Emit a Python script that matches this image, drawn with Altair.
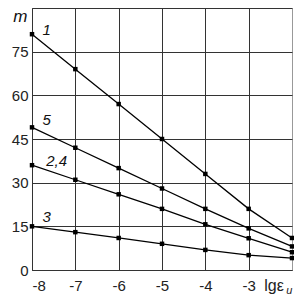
import altair as alt
import pandas as pd

x_vals = [-8, -7, -6, -5, -4, -3, -2]
s1 = [81, 69, 57, 45, 33, 21, 11]
s5 = [49, 42, 35, 28, 21, 14.3, 8.1]
s24 = [36, 31, 26, 21, 15.7, 10.9, 6.1]
s3 = [15, 13, 11, 9, 6.9, 5.1, 4.1]
series_names = ["1", "5", "2,4", "3"]

lab_x = [-7.66, -7.66, -7.43, -7.66]
lab_y = [82.5, 51.5, 37.6, 18.3]

rows = []
for name, vals in zip(series_names, [s1, s5, s24, s3]):
    for xv, yv in zip(x_vals, vals):
        rows.append({"x": xv, "y": yv, "s": name})
df = pd.DataFrame(rows)
labels = pd.DataFrame({"x": lab_x, "y": lab_y, "t": series_names})

FONT = "Liberation Sans"

xs = alt.Scale(domain=[-8, -2], nice=False)
ys = alt.Scale(domain=[0, 90], nice=False)

xaxis = alt.Axis(values=[-8, -7, -6, -5, -4, -3], title=None, grid=True,
                 gridColor="#333", gridWidth=1, ticks=False, domainColor="#333",
                 labelFont=FONT, labelFontSize=15, labelColor="#222", labelPadding=8,
                 labelExpr="'' + datum.value")
yaxis = alt.Axis(values=[0, 15, 30, 45, 60, 75, 90], title=None, grid=True,
                 gridColor="#333", gridWidth=1, ticks=False, domainColor="#333",
                 labelFont=FONT, labelFontSize=15, labelColor="#222", labelPadding=4,
                 labelExpr="datum.value == 90 ? '' : datum.label")

lines = alt.Chart(df).mark_line(color="black", strokeWidth=1.3).encode(
    x=alt.X("x:Q", scale=xs, axis=xaxis),
    y=alt.Y("y:Q", scale=ys, axis=yaxis),
    detail="s:N",
)
pts = alt.Chart(df).mark_square(color="black", size=20, opacity=1).encode(
    x=alt.X("x:Q", scale=xs), y=alt.Y("y:Q", scale=ys)
)
lab = alt.Chart(labels).mark_text(font=FONT, fontSize=15, fontStyle="italic",
                                  color="#111").encode(
    x=alt.X("x:Q", scale=xs), y=alt.Y("y:Q", scale=ys), text="t:N"
)
mt = alt.Chart(pd.DataFrame({"x": [-8.27], "y": [86.8], "t": ["m"]})).mark_text(
    font=FONT, fontSize=17, fontStyle="italic", color="#111"
).encode(x=alt.X("x:Q", scale=xs), y=alt.Y("y:Q", scale=ys), text="t:N")
xt = alt.Chart(pd.DataFrame({"x": [-2.64], "y": [-2.75], "t": ["lgε"]})).mark_text(
    font=FONT, fontSize=16, color="#222", align="left", baseline="top"
).encode(x=alt.X("x:Q", scale=xs), y=alt.Y("y:Q", scale=ys), text="t:N")
xsub = alt.Chart(pd.DataFrame({"x": [-2.13], "y": [-5.2], "t": ["u"]})).mark_text(
    font=FONT, fontSize=11, fontStyle="italic", color="#222", align="left", baseline="top"
).encode(x=alt.X("x:Q", scale=xs), y=alt.Y("y:Q", scale=ys), text="t:N")

chart = alt.layer(lines, pts, lab, mt, xt, xsub).properties(
    width=260, height=262,
    padding={"left": 24, "top": 0, "right": 2, "bottom": 27},
    autosize=alt.AutoSizeParams(type="none"),
    background="white",
).configure_view(stroke="#999", strokeWidth=1)

chart.save("out.html", embed_options={"renderer": "svg", "actions": False})
